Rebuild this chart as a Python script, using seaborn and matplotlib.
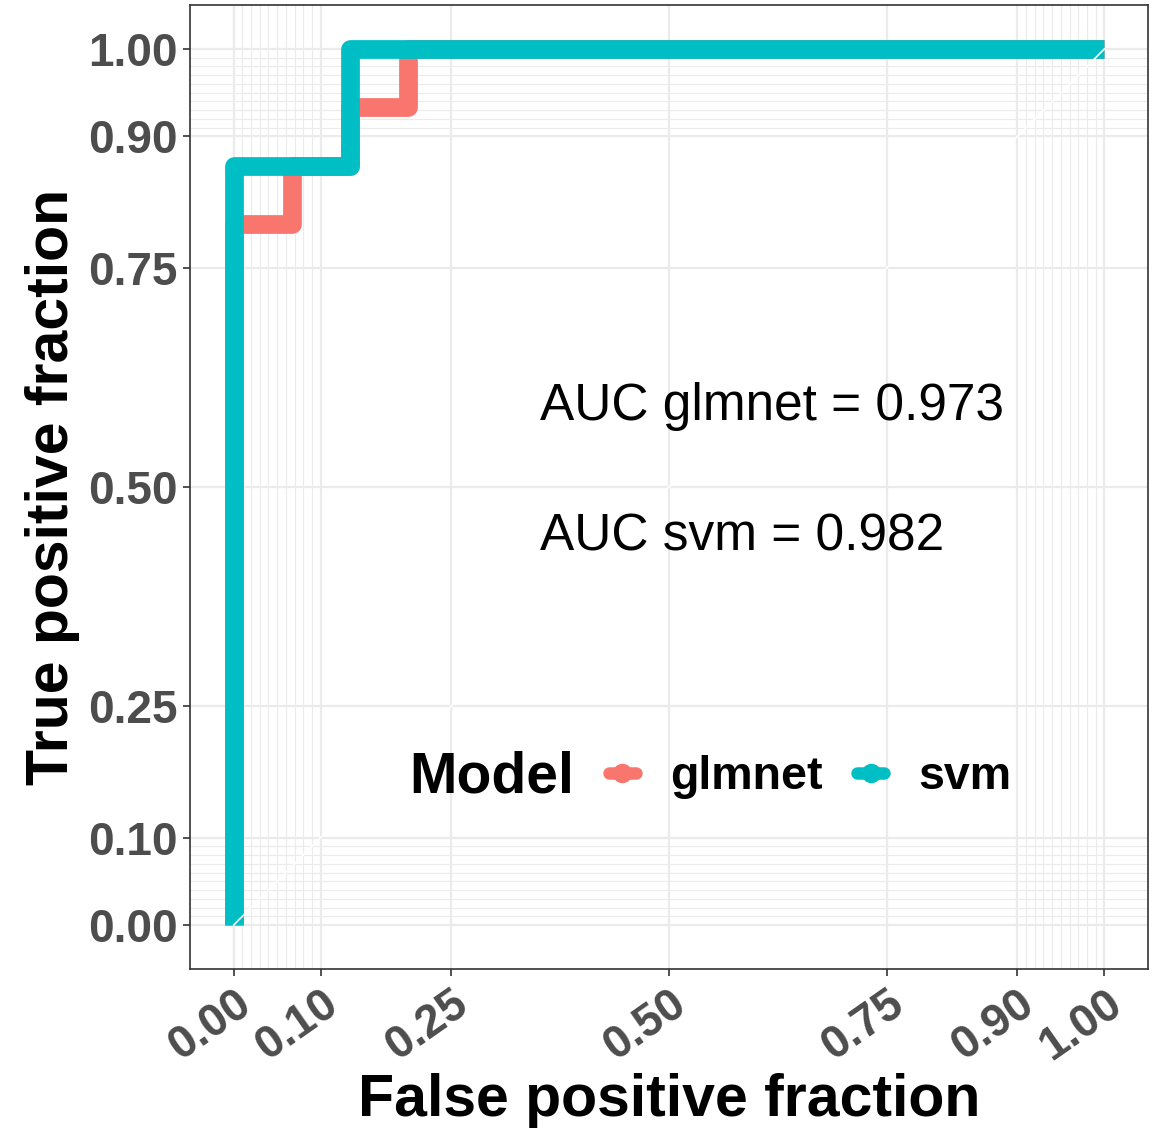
import numpy as np
import pandas as pd
import matplotlib
matplotlib.use("Agg")
import matplotlib.pyplot as plt
import seaborn as sns
from matplotlib.lines import Line2D

# ---- data (ROC step vertices) ----
glmnet_fpr = [0.0, 0.0, 1/15, 1/15, 2/15, 2/15, 3/15, 3/15, 1.0]
glmnet_tpr = [0.0, 0.8, 0.8, 13/15, 13/15, 14/15, 14/15, 1.0, 1.0]
svm_fpr = [0.0, 0.0, 2/15, 2/15, 1.0]
svm_tpr = [0.0, 13/15, 13/15, 1.0, 1.0]
models = ["glmnet", "svm"]
auc_values = [0.973, 0.982]
major_ticks = [0.0, 0.1, 0.25, 0.5, 0.75, 0.9, 1.0]
tick_labels = ["0.00", "0.10", "0.25", "0.50", "0.75", "0.90", "1.00"]
minor_ticks = [i / 100 for i in range(1, 10)] + [i / 100 for i in range(91, 100)]
colors = {"glmnet": "#F8766D", "svm": "#00BFC4"}

df = pd.concat([
    pd.DataFrame({"FPR": glmnet_fpr, "TPR": glmnet_tpr, "Model": "glmnet"}),
    pd.DataFrame({"FPR": svm_fpr, "TPR": svm_tpr, "Model": "svm"}),
], ignore_index=True)

sns.set_theme(style="white")
plt.rcParams["font.family"] = ["Liberation Sans", "DejaVu Sans"]

W, H = 1159, 1129
fig = plt.figure(figsize=(W / 100, H / 100), dpi=100)
ax = fig.add_axes([190 / W, 1 - 969 / H, (1148 - 190) / W, (969 - 5) / H])

grid_c = "#EBEBEB"
for v in minor_ticks:
    ax.axvline(v, color=grid_c, lw=0.8, zorder=0)
    ax.axhline(v, color=grid_c, lw=0.8, zorder=0)
for v in major_ticks:
    ax.axvline(v, color=grid_c, lw=1.6, zorder=0)
    ax.axhline(v, color=grid_c, lw=1.6, zorder=0)

sns.lineplot(data=df, x="FPR", y="TPR", hue="Model", palette=colors,
             sort=False, estimator=None, units="Model", lw=13.5, ax=ax,
             legend=False, zorder=3)
for ln in ax.get_lines():
    if ln.get_linewidth() > 10:
        ln.set_solid_joinstyle("round")
        ln.set_solid_capstyle("butt")

# diagonal reference
ax.plot([0, 1], [0, 1], color="white", lw=1.2, zorder=4)

ax.set_xlim(-0.05, 1.05)
ax.set_ylim(-0.05, 1.05)
ax.set_xticks(major_ticks)
ax.set_yticks(major_ticks)
ax.set_xticklabels(tick_labels, rotation=35, ha="right", va="top",
                   rotation_mode="anchor")
ax.set_yticklabels(tick_labels)
for lab in ax.get_xticklabels() + ax.get_yticklabels():
    lab.set_fontweight("bold")
    lab.set_color("#4D4D4D")
    lab.set_fontsize(33)
ax.tick_params(axis="both", length=5, width=1.2, color="#333333", pad=4,
               bottom=True, left=True)
for s in ax.spines.values():
    s.set_color("#333333")
    s.set_linewidth(1.2)

ax.set_xlabel("False positive fraction", fontsize=42.5, fontweight="bold",
              color="black", labelpad=3)
ax.set_ylabel("True positive fraction", fontsize=42.5, fontweight="bold",
              color="black", labelpad=6)

ax.text(0.352, 0.592, f"AUC {models[0]} = {auc_values[0]:.3f}", fontsize=37,
        ha="left", va="center", color="black", zorder=6)
ax.text(0.352, 0.443, f"AUC {models[1]} = {auc_values[1]:.3f}", fontsize=37,
        ha="left", va="center", color="black", zorder=6)

handles = [Line2D([0], [0], color=colors[m], lw=9, marker="o", markersize=13)
           for m in models]
leg = ax.legend(handles, models, title="Model", ncol=2, frameon=False,
                loc="center", bbox_to_anchor=(0.543, 0.199),
                prop={"weight": "bold", "size": 33.5},
                title_fontproperties={"weight": "bold", "size": 41},
                handlelength=0.58, handletextpad=0.73, columnspacing=0.75)
leg.get_title().set_color("black")
for t in leg.get_texts():
    t.set_color("black")
leg.set_zorder(7)
# put title on the left of the keys
c = leg.get_children()[0]
title = c.get_children()[0]
hpack = c.get_children()[1]
c._children = [hpack]
hpack._children = [title] + hpack.get_children()
hpack.align = "center"

fig.savefig("out.png", dpi=100)
